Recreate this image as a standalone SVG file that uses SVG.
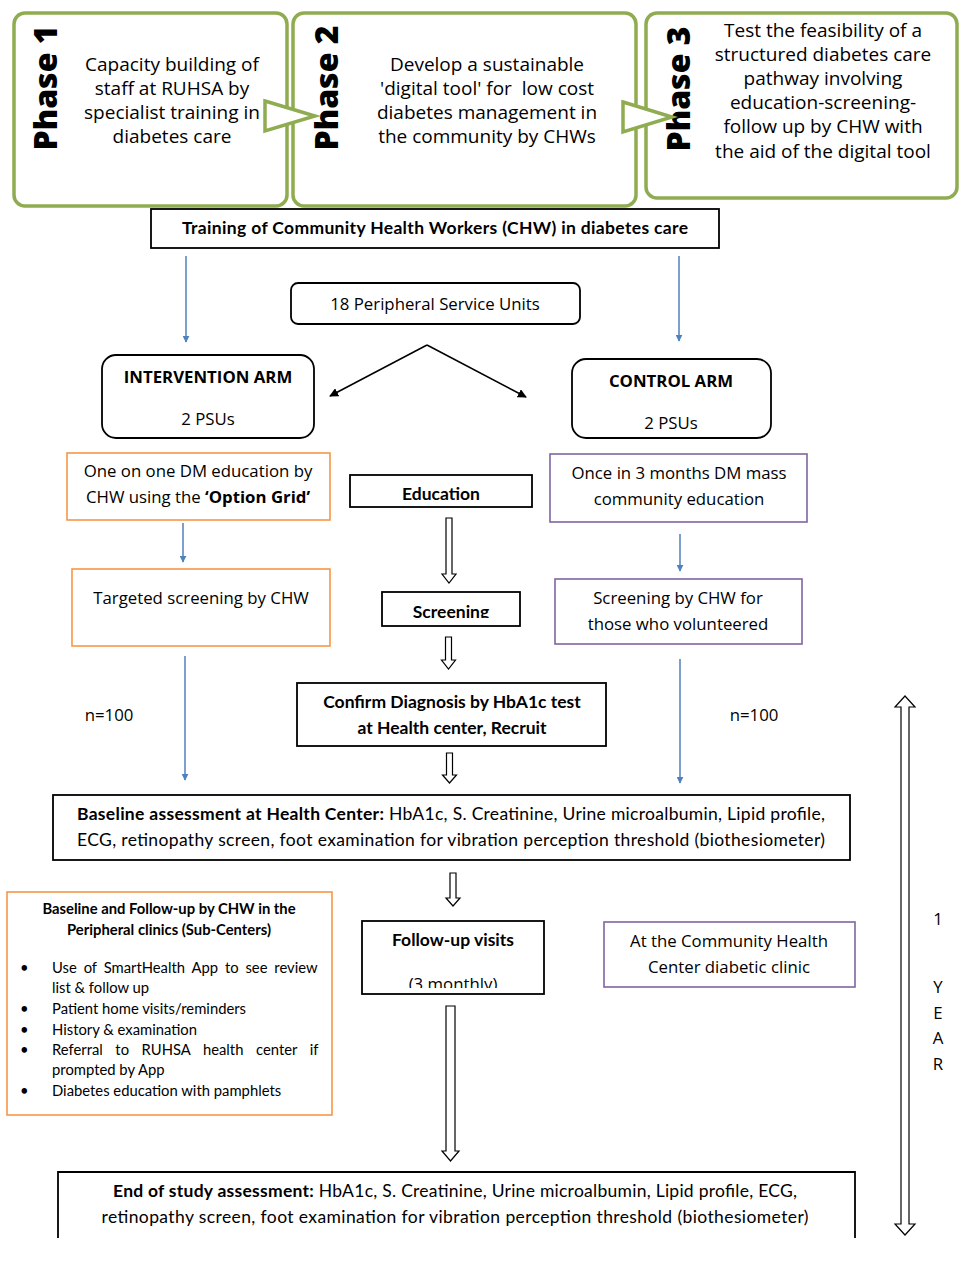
<svg xmlns="http://www.w3.org/2000/svg" width="976" height="1262" viewBox="0 0 976 1262">
<style>
text{font-family:"Open Sans","Noto Sans","Liberation Sans",sans-serif;fill:#000}
.ph{fill:#fff;stroke:#8fac50;stroke-width:3.5}
.phl{font-size:32px;font-weight:800;text-anchor:middle}
.pt{font-size:19px;text-anchor:middle}
.bx{fill:#fff;stroke:#000;stroke-width:1.8}
.or{fill:#fff;stroke:#f79646;stroke-width:1.6}
.pu{fill:#fff;stroke:#8064a2;stroke-width:1.6}
.t16{font-size:16.8px;text-anchor:middle}
.b16{font-size:17.5px;text-anchor:middle;font-weight:bold;font-family:Lato,"Liberation Sans",sans-serif}
.cal{font-size:17.5px;text-anchor:middle;font-family:Lato,"Liberation Sans",sans-serif}
.t13{font-size:14.8px;font-family:Lato,"Liberation Sans",sans-serif}
.blue{stroke:#4f81bd;stroke-width:1.5;fill:none}
.blk{stroke:#000;stroke-width:1.5;fill:none}
.hol{fill:#fff;stroke:#000;stroke-width:1.2}
.tri{fill:#fff;stroke:#8fac50;stroke-width:3.5}
</style>
<defs>
<marker id="ab" viewBox="0 0 10 10" refX="9" refY="5" markerWidth="7" markerHeight="7" markerUnits="userSpaceOnUse" orient="auto"><path d="M0,0 L10,5 L0,10 z" fill="#4f81bd"/></marker>
<marker id="ak" viewBox="0 0 10 10" refX="9" refY="5" markerWidth="9" markerHeight="9" markerUnits="userSpaceOnUse" orient="auto"><path d="M0,0 L10,5 L0,10 z" fill="#000"/></marker>
<clipPath id="c1"><rect x="380" y="590" width="150" height="28"/></clipPath>
<clipPath id="c2"><rect x="360" y="960" width="190" height="28"/></clipPath>
</defs>
<rect width="976" height="1262" fill="#fff"/>

<g id="phase1">
<rect class="ph" x="14" y="13" width="273" height="193" rx="11"/>
<text class="phl" transform="translate(57,88) rotate(-90)">Phase 1</text>
<text class="pt" x="172" y="71">Capacity building of</text>
<text class="pt" x="172" y="95">staff at RUHSA by</text>
<text class="pt" x="172" y="119">specialist training in</text>
<text class="pt" x="172" y="143">diabetes care</text>
</g>
<g id="phase2">
<rect class="ph" x="293" y="13" width="343" height="193" rx="11"/>
<text class="phl" transform="translate(338,88) rotate(-90)">Phase 2</text>
<text class="pt" x="487" y="71">Develop a sustainable</text>
<text class="pt" x="487" y="95" xml:space="preserve">'digital tool' for  low cost</text>
<text class="pt" x="487" y="119">diabetes management in</text>
<text class="pt" x="487" y="143">the community by CHWs</text>
</g>
<g id="phase3">
<rect class="ph" x="646" y="13" width="311" height="185" rx="11"/>
<text class="phl" transform="translate(690,89) rotate(-90)">Phase 3</text>
<text class="pt" x="823" y="37">Test the feasibility of a</text>
<text class="pt" x="823" y="61">structured diabetes care</text>
<text class="pt" x="823" y="85">pathway involving</text>
<text class="pt" x="823" y="109">education-screening-</text>
<text class="pt" x="823" y="133">follow up by CHW with</text>
<text class="pt" x="823" y="158">the aid of the digital tool</text>
</g>

<g id="training">
<rect class="bx" x="151" y="209" width="568" height="39"/>
<text class="b16" x="435" y="234" textLength="506">Training of Community Health Workers (CHW) in diabetes care</text>
</g>
<g id="psu">
<rect class="bx" x="291" y="283" width="289" height="41" rx="7"/>
<text class="t16" x="435" y="310">18 Peripheral Service Units</text>
</g>
<g id="intervention">
<rect class="bx" x="102" y="355" width="212" height="83" rx="14"/>
<text class="t16" x="208" y="383" font-weight="bold" font-size="15.5">INTERVENTION ARM</text>
<text class="t16" x="208" y="425">2 PSUs</text>
</g>
<g id="control">
<rect class="bx" x="572" y="359" width="199" height="79" rx="14"/>
<text class="t16" x="671" y="387" font-weight="bold" font-size="15.5">CONTROL ARM</text>
<text class="t16" x="671" y="429">2 PSUs</text>
</g>
<g id="oneonone">
<rect class="or" x="67" y="453" width="263" height="67"/>
<text class="t16" x="198" y="477">One on one DM education by</text>
<text class="t16" x="198" y="503">CHW using the <tspan font-weight="bold">‘Option Grid’</tspan></text>
</g>
<g id="education">
<rect class="bx" x="350" y="475" width="182" height="32"/>
<text class="b16" x="441" y="500">Education</text>
</g>
<g id="masseducation">
<rect class="pu" x="550" y="454" width="257" height="68"/>
<text class="t16" x="679" y="479">Once in 3 months DM mass</text>
<text class="t16" x="679" y="505">community education</text>
</g>
<g id="targeted">
<rect class="or" x="72" y="569" width="258" height="77"/>
<text class="t16" x="201" y="604">Targeted screening by CHW</text>
</g>
<g id="screening">
<rect class="bx" x="382" y="592" width="138" height="34"/>
<text class="b16" x="451" y="618" clip-path="url(#c1)">Screening</text>
</g>
<g id="volunteered">
<rect class="pu" x="555" y="579" width="247" height="65"/>
<text class="t16" x="678" y="604">Screening by CHW for</text>
<text class="t16" x="678" y="630">those who volunteered</text>
</g>
<g id="confirm">
<rect class="bx" x="297" y="683" width="309" height="63"/>
<text class="b16" x="452" y="708">Confirm Diagnosis by HbA1c test</text>
<text class="b16" x="452" y="734">at Health center, Recruit</text>
</g>
<g id="n100">
<text class="t16" x="109" y="721">n=100</text>
<text class="t16" x="754" y="721">n=100</text>
</g>
<g id="baseline">
<rect class="bx" x="53" y="795" width="797" height="65"/>
<text class="cal" x="451" y="820" textLength="748"><tspan font-weight="bold">Baseline assessment at Health Center:</tspan> HbA1c, S. Creatinine, Urine microalbumin, Lipid profile,</text>
<text class="cal" x="451" y="846" textLength="748">ECG, retinopathy screen, foot examination for vibration perception threshold (biothesiometer)</text>
</g>
<g id="subcenters">
<rect class="or" x="7" y="892" width="325" height="223"/>
<text class="t13" x="169" y="914" text-anchor="middle" font-weight="bold" font-size="14.5">Baseline and Follow-up by CHW in the</text>
<text class="t13" x="169" y="935" text-anchor="middle" font-weight="bold" font-size="14.5">Peripheral clinics (Sub-Centers)</text>
<text class="t13" x="20" y="973">•</text>
<text class="t13" x="52" y="973" word-spacing="3.1">Use of SmartHealth App to see review</text>
<text class="t13" x="52" y="993">list &amp; follow up</text>
<text class="t13" x="20" y="1014">•</text>
<text class="t13" x="52" y="1014">Patient home visits/reminders</text>
<text class="t13" x="20" y="1035">•</text>
<text class="t13" x="52" y="1035">History &amp; examination</text>
<text class="t13" x="20" y="1055">•</text>
<text class="t13" x="52" y="1055" word-spacing="8.8">Referral to RUHSA health center if</text>
<text class="t13" x="52" y="1075">prompted by App</text>
<text class="t13" x="20" y="1096">•</text>
<text class="t13" x="52" y="1096">Diabetes education with pamphlets</text>
</g>
<g id="followup">
<rect class="bx" x="362" y="921" width="182" height="73"/>
<text class="b16" x="453" y="946" font-size="18">Follow-up visits</text>
<text class="t16" x="453" y="990" clip-path="url(#c2)">(3 monthly)</text>
</g>
<g id="chc">
<rect class="pu" x="604" y="922" width="251" height="65"/>
<text class="t16" x="729" y="947">At the Community Health</text>
<text class="t16" x="729" y="973">Center diabetic clinic</text>
</g>
<g id="endstudy">
<path d="M58,1238 V1172 H855 V1238" fill="none" stroke="#000" stroke-width="1.8"/>
<text class="cal" x="455" y="1197" textLength="684"><tspan font-weight="bold">End of study assessment:</tspan> HbA1c, S. Creatinine, Urine microalbumin, Lipid profile, ECG,</text>
<text class="cal" x="455" y="1223" textLength="707">retinopathy screen, foot examination for vibration perception threshold (biothesiometer)</text>
</g>
<g id="year">
<text class="t16" x="938" y="925" font-size="15">1</text>
<text class="t16" x="938" y="993" font-size="15">Y</text>
<text class="t16" x="938" y="1019" font-size="15">E</text>
<text class="t16" x="938" y="1044" font-size="15">A</text>
<text class="t16" x="938" y="1070" font-size="15">R</text>
</g>

<g id="connectors">
<polygon class="tri" points="265,101 315,116 265,131"/>
<polygon class="tri" points="623,102 672,117 623,132"/>
<line class="blue" x1="186" y1="256" x2="186" y2="342" marker-end="url(#ab)"/>
<line class="blue" x1="679" y1="256" x2="679" y2="341" marker-end="url(#ab)"/>
<line class="blk" x1="427" y1="345" x2="330" y2="396" marker-end="url(#ak)"/>
<line class="blk" x1="427" y1="345" x2="526" y2="397" marker-end="url(#ak)"/>
<line class="blue" x1="183" y1="523" x2="183" y2="562" marker-end="url(#ab)"/>
<line class="blue" x1="680" y1="534" x2="680" y2="571" marker-end="url(#ab)"/>
<line class="blue" x1="185" y1="656" x2="185" y2="780" marker-end="url(#ab)"/>
<line class="blue" x1="680" y1="659" x2="680" y2="783" marker-end="url(#ab)"/>
<polygon class="hol" points="446,518 452,518 452,574 456,574 449,583 442,574 446,574"/>
<polygon class="hol" points="445.5,637 451.5,637 451.5,660 455.5,660 448.5,669 441.5,660 445.5,660"/>
<polygon class="hol" points="446.5,753 452.5,753 452.5,775 456.5,775 449.5,783 442.5,775 446.5,775"/>
<polygon class="hol" points="450,873 456,873 456,898 460,898 453,906 446,898 450,898"/>
<polygon class="hol" points="446,1006 455,1006 455,1151 459,1151 450.5,1161 442,1151 446,1151"/>
<polygon class="hol" points="905,696 915,707 909,707 909,1224 915,1224 905,1235 895,1224 901,1224 901,707 895,707"/>
</g>
</svg>
